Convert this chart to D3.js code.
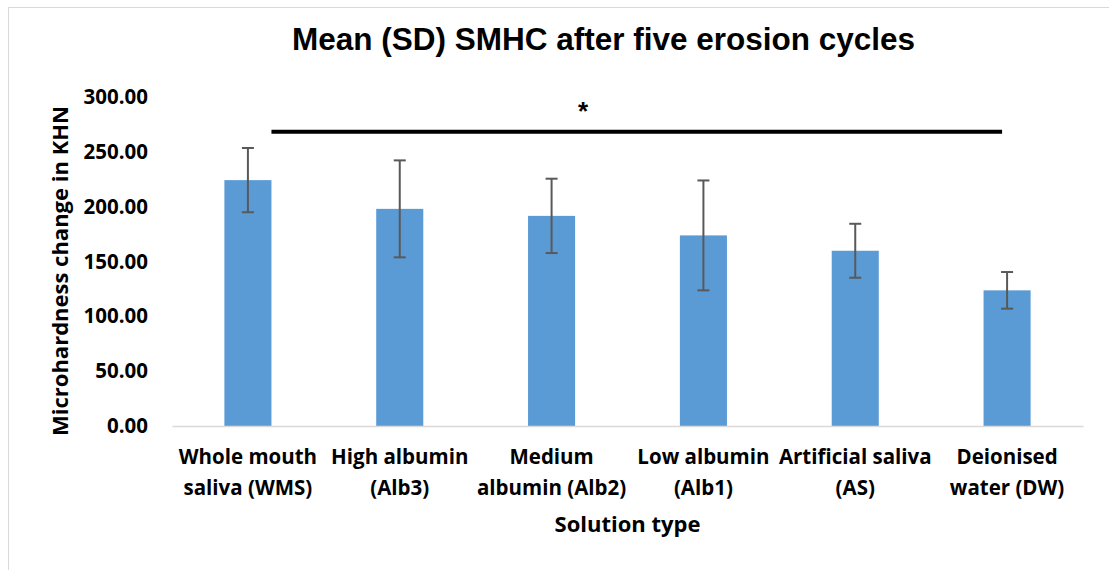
<!DOCTYPE html>
<html>
<head>
<meta charset="utf-8">
<script src="https://cdn.jsdelivr.net/npm/d3@7/dist/d3.min.js"></script>
<style>
  html, body { margin: 0; padding: 0; background: #fff; }
  svg { display: block; }
</style>
</head>
<body>
<svg id="chart" width="1109" height="570"></svg>
<script>
// Solution groups, each label split into two lines
const categories = ["WMS", "Alb3", "Alb2", "Alb1", "AS", "DW"];
const labelLine1 = ["Whole mouth", "High albumin", "Medium", "Low albumin", "Artificial saliva", "Deionised"];
const labelLine2 = ["saliva (WMS)", "(Alb3)", "albumin (Alb2)", "(Alb1)", "(AS)", "water (DW)"];
// Mean surface microhardness change (KHN) and standard deviation
const meanValues = [224.2, 198.0, 191.6, 173.8, 159.8, 123.7];
const sdValues = [29.3, 44.2, 33.9, 50.1, 24.6, 16.7];
const yTicks = [0, 50, 100, 150, 200, 250, 300];
// Significance bar spanning WMS to DW
const sigValue = 268.4;
const sigFrom = "WMS", sigTo = "DW";

const svg = d3.select("#chart");
const W = 1109, H = 570;
const margin = { left: 172, right: 26, top: 97, bottom: 144 };
const plotW = W - margin.left - margin.right;
const plotH = H - margin.top - margin.bottom;

// Chart area border
svg.append("rect")
  .attr("x", 8.5).attr("y", 7.5)
  .attr("width", W + 20).attr("height", H + 20)
  .attr("fill", "none").attr("stroke", "#d9d9d9").attr("stroke-width", 1);

const g = svg.append("g").attr("transform", `translate(${margin.left},${margin.top})`);

const x = d3.scaleBand().domain(categories).range([0, plotW]).paddingInner(0.69).paddingOuter(0.345);
const y = d3.scaleLinear().domain([0, 300]).range([plotH, 0]);

const labelFont = "'Open Sans', Lato, sans-serif";

// Y axis (labels only)
const yAxis = g.append("g")
  .call(d3.axisLeft(y).tickValues(yTicks).tickFormat(d3.format(".2f")).tickSize(0).tickPadding(24));
yAxis.select(".domain").remove();
yAxis.selectAll("text")
  .attr("font-family", labelFont).attr("font-weight", "bold")
  .attr("font-size", "20.5px").attr("fill", "#000");

// Bars
g.selectAll("rect.bar").data(categories).enter().append("rect")
  .attr("class", "bar")
  .attr("x", d => x(d))
  .attr("y", (d, i) => y(meanValues[i]))
  .attr("width", x.bandwidth())
  .attr("height", (d, i) => y(0) - y(meanValues[i]))
  .attr("fill", "#5b9bd5");

// X axis line
const xAxis = g.append("g").attr("transform", `translate(0,${plotH})`)
  .call(d3.axisBottom(x).tickSize(0).tickFormat(""));
xAxis.select(".domain").attr("stroke", "#d9d9d9").attr("stroke-width", 1.5);

// Category labels
const labels = g.append("g").selectAll("text").data(categories).enter().append("text")
  .attr("x", d => x(d) + x.bandwidth() / 2)
  .attr("text-anchor", "middle")
  .attr("font-family", labelFont).attr("font-weight", "bold")
  .attr("font-size", "20.5px").attr("fill", "#000");
labels.append("tspan").attr("x", d => x(d) + x.bandwidth() / 2).attr("y", plotH + 38)
  .text((d, i) => labelLine1[i]);
labels.append("tspan").attr("x", d => x(d) + x.bandwidth() / 2).attr("y", plotH + 69)
  .text((d, i) => labelLine2[i]);

// Error bars
const err = g.append("g").attr("stroke", "#595959").attr("stroke-width", 2);
categories.forEach((c, i) => {
  const cx = x(c) + x.bandwidth() / 2;
  const top = y(meanValues[i] + sdValues[i]);
  const bot = y(meanValues[i] - sdValues[i]);
  err.append("line").attr("x1", cx).attr("x2", cx).attr("y1", top).attr("y2", bot);
  err.append("line").attr("x1", cx - 6).attr("x2", cx + 6).attr("y1", top).attr("y2", top);
  err.append("line").attr("x1", cx - 6).attr("x2", cx + 6).attr("y1", bot).attr("y2", bot);
});

// Significance line and marker
const sigX1 = x(sigFrom) + x.bandwidth();
const sigX2 = x(sigTo) + x.bandwidth() / 2 - 5;
g.append("line")
  .attr("x1", sigX1).attr("x2", sigX2)
  .attr("y1", y(sigValue)).attr("y2", y(sigValue))
  .attr("stroke", "#000").attr("stroke-width", 4);
g.append("text")
  .attr("x", 583 - margin.left).attr("y", y(sigValue) - 12)
  .attr("text-anchor", "middle")
  .attr("font-family", "'Liberation Sans', Arial, sans-serif")
  .attr("font-weight", "bold").attr("font-size", "26px").attr("fill", "#000")
  .text("*");

// Title
svg.append("text")
  .attr("x", 603.5).attr("y", 50)
  .attr("text-anchor", "middle")
  .attr("font-family", "'Liberation Sans', Arial, sans-serif")
  .attr("font-weight", "bold").attr("font-size", "31.5px").attr("fill", "#000")
  .text("Mean (SD) SMHC after five erosion cycles");

// Axis titles
svg.append("text")
  .attr("x", margin.left + plotW / 2).attr("y", 532)
  .attr("text-anchor", "middle")
  .attr("font-family", labelFont).attr("font-weight", "bold")
  .attr("font-size", "22px").attr("fill", "#000")
  .text("Solution type");

svg.append("text")
  .attr("transform", `translate(68,${271}) rotate(-90)`)
  .attr("text-anchor", "middle")
  .attr("font-family", labelFont).attr("font-weight", "bold")
  .attr("font-size", "22px").attr("fill", "#000")
  .text("Microhardness change in KHN");
</script>
</body>
</html>
